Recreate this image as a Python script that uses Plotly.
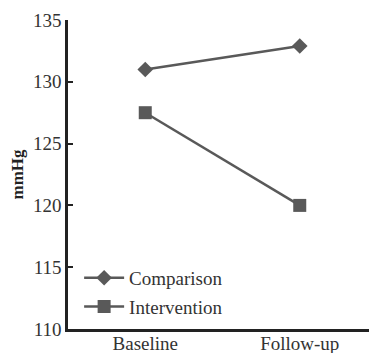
import plotly.graph_objects as go

categories = ["Baseline", "Follow-up"]
comparison = [131.0, 132.9]
intervention = [127.5, 120.0]
y_ticks = [110, 115, 120, 125, 130, 135]

fig = go.Figure()
fig.add_trace(go.Scatter(
    x=categories, y=comparison, name="Comparison", mode="lines+markers",
    line=dict(color="#595959", width=2.5),
    marker=dict(symbol="diamond", size=12, color="#595959"),
    legendgroup="a",
))
fig.add_trace(go.Scatter(
    x=categories, y=intervention, name="Intervention", mode="lines+markers",
    line=dict(color="#595959", width=2.5),
    marker=dict(symbol="square", size=13, color="#595959"),
    legendgroup="b",
))

font_family = "Times New Roman, Liberation Serif, DejaVu Serif, serif"
fig.update_layout(
    width=369, height=345,
    margin=dict(l=60, r=0, t=12, b=24, autoexpand=False),
    paper_bgcolor="white", plot_bgcolor="white",
    font=dict(family=font_family, size=19, color="#333333"),
    showlegend=True,
    legend=dict(
        x=0.036, y=0.227, xanchor="left", yanchor="top",
        bgcolor="rgba(0,0,0,0)", font=dict(family=font_family, size=19, color="#333333"),
        traceorder="grouped", tracegroupgap=1, itemwidth=40,
    ),
    xaxis=dict(
        range=[-0.5, 1.5], showgrid=False, zeroline=False, automargin=False,
        showline=True, linecolor="#222222", linewidth=2.5,
        ticks="", tickfont=dict(family=font_family, size=19, color="#333333"),
        ticklabelstandoff=-5,
    ),
    yaxis=dict(
        range=[110, 135], tickvals=y_ticks, showgrid=False, zeroline=False, automargin=False,
        showline=True, linecolor="#222222", linewidth=2.5,
        ticks="inside", ticklen=5, tickwidth=2, tickcolor="#222222",
        tickfont=dict(family=font_family, size=19, color="#333333"),
        title=dict(text="<b>mmHg</b>", font=dict(family=font_family, size=17, color="#222222"), standoff=14),
    ),
)

fig.write_html("out.html")
